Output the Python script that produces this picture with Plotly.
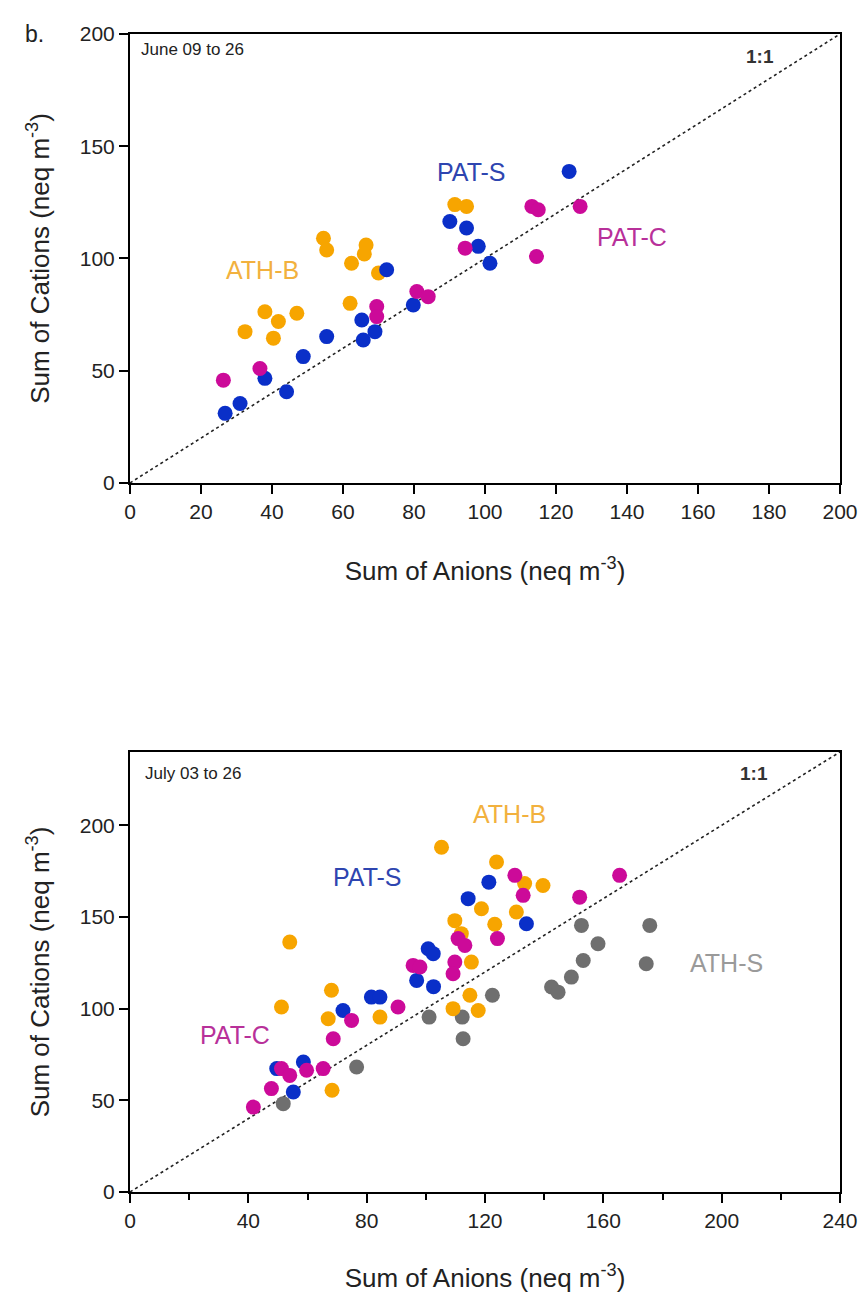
import plotly.graph_objects as go
from plotly.subplots import make_subplots

# ---------------- Panel 1: June 09 to 26 ----------------
june_athb_x = [54.5, 55.4, 66.5, 66.0, 62.4, 70.0, 62.0, 38.0, 47.0, 41.8, 32.4, 40.4, 91.5, 94.8]
june_athb_y = [109.0, 103.8, 106.0, 102.0, 97.9, 93.5, 80.0, 76.3, 75.6, 71.9, 67.4, 64.5, 124.0, 123.2]

june_pats_x = [26.8, 31.0, 44.1, 38.0, 48.8, 55.4, 65.3, 65.7, 69.0, 79.8, 72.3, 90.1, 94.8, 98.1, 101.4, 123.7]
june_pats_y = [31.0, 35.4, 40.6, 46.6, 56.3, 65.2, 72.6, 63.7, 67.4, 79.3, 95.0, 116.5, 113.6, 105.4, 97.9, 138.8]

june_patc_x = [26.3, 36.6, 69.5, 69.5, 80.8, 84.0, 94.4, 113.2, 115.0, 126.8, 114.5]
june_patc_y = [45.8, 51.0, 78.6, 74.1, 85.3, 83.0, 104.6, 123.2, 121.7, 123.2, 100.9]

# ---------------- Panel 2: July 03 to 26 ----------------
july_athb_x = [105.3, 54.0, 51.2, 68.1, 67.0, 84.5, 68.3, 118.8, 109.8, 115.4, 109.2, 114.9, 117.7,
               123.9, 123.3, 133.4, 139.6, 130.6, 112.0]
july_athb_y = [188.0, 136.3, 100.9, 110.0, 94.5, 95.4, 55.5, 154.5, 148.0, 125.4, 100.0, 107.3, 99.0,
               180.0, 146.0, 168.2, 167.2, 152.7, 140.9]

july_pats_x = [121.3, 114.3, 100.8, 102.5, 96.9, 102.6, 81.6, 84.5, 72.0, 49.6, 58.6, 55.2, 134.0]
july_pats_y = [169.0, 160.0, 132.7, 130.0, 115.4, 112.0, 106.3, 106.3, 99.0, 67.3, 70.9, 54.5, 146.3]

july_patc_x = [41.7, 47.8, 51.2, 54.0, 59.7, 65.3, 68.7, 74.9, 90.6, 95.7, 98.0, 109.8, 109.2,
               110.9, 113.2, 124.2, 130.1, 132.9, 152.0, 165.5]
july_patc_y = [46.3, 56.4, 67.3, 63.6, 66.4, 67.3, 83.6, 93.6, 100.9, 123.6, 122.7, 125.4, 119.0,
               138.2, 134.5, 138.2, 172.7, 161.8, 160.8, 172.7]

july_aths_x = [51.8, 76.6, 101.1, 112.3, 112.6, 122.5, 142.5, 144.7, 149.2, 153.2, 158.2, 152.6, 175.7, 174.5]
july_aths_y = [48.2, 68.2, 95.4, 95.4, 83.6, 107.3, 111.8, 109.0, 117.2, 126.3, 135.4, 145.4, 145.4, 124.5]

one_to_one_top = [0, 200]
one_to_one_bot = [0, 240]

C_ORANGE = "#F7A500"
C_BLUE = "#0A2FC8"
C_MAG = "#CC0A99"
C_GRAY = "#6F6F6F"

FONT = "Liberation Sans, Arial, sans-serif"
TXT = "#222222"

fig = make_subplots(rows=2, cols=1, vertical_spacing=0.0)

MS = 15

def add_pts(x, y, color, row):
    fig.add_trace(go.Scatter(x=x, y=y, mode="markers",
                             marker=dict(size=MS, color=color, line=dict(width=0)),
                             showlegend=False), row=row, col=1)

# 1:1 lines
fig.add_trace(go.Scatter(x=one_to_one_top, y=one_to_one_top, mode="lines",
                         line=dict(color=TXT, width=1.6, dash="dot"),
                         showlegend=False), row=1, col=1)
fig.add_trace(go.Scatter(x=one_to_one_bot, y=one_to_one_bot, mode="lines",
                         line=dict(color=TXT, width=1.6, dash="dot"),
                         showlegend=False), row=2, col=1)

add_pts(june_athb_x, june_athb_y, C_ORANGE, 1)
add_pts(june_pats_x, june_pats_y, C_BLUE, 1)
add_pts(june_patc_x, june_patc_y, C_MAG, 1)

add_pts(july_aths_x, july_aths_y, C_GRAY, 2)
add_pts(july_athb_x, july_athb_y, C_ORANGE, 2)
add_pts(july_pats_x, july_pats_y, C_BLUE, 2)
add_pts(july_patc_x, july_patc_y, C_MAG, 2)

axis_common = dict(showgrid=False, zeroline=False, showline=True, linecolor="black",
                   linewidth=2, mirror=True, ticks="outside", ticklen=9, tickwidth=2,
                   tickcolor="black", automargin=False,
                   tickfont=dict(family=FONT, size=21, color=TXT))

ytitle = "Sum of Cations (neq m<sup>-3</sup>)"
xtitle = "Sum of Anions (neq m<sup>-3</sup>)"
TITLE_FONT = dict(family=FONT, size=26, color=TXT)

fig.update_xaxes(**axis_common, range=[0, 200], tickvals=list(range(0, 201, 20)),
                 title=dict(text=xtitle, font=TITLE_FONT, standoff=40),
                 domain=[0, 1], row=1, col=1)
fig.update_yaxes(**axis_common, range=[0, 200], tickvals=[0, 50, 100, 150, 200],
                 title=dict(text=ytitle, font=TITLE_FONT, standoff=23),
                 domain=[0.6123, 1.0], row=1, col=1)
fig.update_xaxes(**axis_common, range=[0, 240], tickvals=list(range(0, 241, 40)),
                 minor=dict(tickvals=list(range(20, 240, 40)), ticks="outside", ticklen=6,
                            tickwidth=2, tickcolor="black"),
                 title=dict(text=xtitle, font=TITLE_FONT, standoff=38),
                 domain=[0, 1], row=2, col=1)
fig.update_yaxes(**axis_common, range=[0, 240], tickvals=[0, 50, 100, 150, 200],
                 title=dict(text=ytitle, font=TITLE_FONT, standoff=23),
                 domain=[0.0, 0.38], row=2, col=1)

def ann(text, x, y, color, size, row, xanchor="center"):
    xr = "x" if row == 1 else "x2"
    yr = "y" if row == 1 else "y2"
    fig.add_annotation(text=text, x=x, y=y, xref=xr, yref=yr, showarrow=False,
                       xanchor=xanchor, yanchor="middle",
                       font=dict(family=FONT, size=size, color=color))

ann("June 09 to 26", 2.6, 193, TXT, 17, 1, xanchor="left")
ann("<b>1:1</b>", 177.5, 190, "#333333", 19, 1)
ann("PAT-S", 96.3, 138.7, "#2E45B0", 25, 1)
ann("ATH-B", 37.2, 95, "#F2B13E", 25, 1)
ann("PAT-C", 141.4, 109.7, "#B8309A", 25, 1)

ann("July 03 to 26", 4.5, 228.3, TXT, 17, 2, xanchor="left")
ann("<b>1:1</b>", 211, 228, "#333333", 19, 2)
ann("ATH-B", 128.4, 206, "#F2B13E", 25, 2)
ann("PAT-S", 80.4, 172, "#2E45B0", 25, 2)
ann("PAT-C", 35.5, 85.4, "#B8309A", 25, 2)
ann("ATH-S", 201.7, 124.7, "#9A9A9A", 25, 2)

fig.add_annotation(text="b.", x=-0.134, y=1.0, xref="paper", yref="paper", showarrow=False,
                   xanchor="center", yanchor="middle",
                   font=dict(family=FONT, size=23, color=TXT))

fig.update_layout(width=864, height=1294, margin=dict(l=130, r=24, t=34, b=102),
                  plot_bgcolor="white", paper_bgcolor="white",
                  font=dict(family=FONT))

fig.write_html("out.html")
